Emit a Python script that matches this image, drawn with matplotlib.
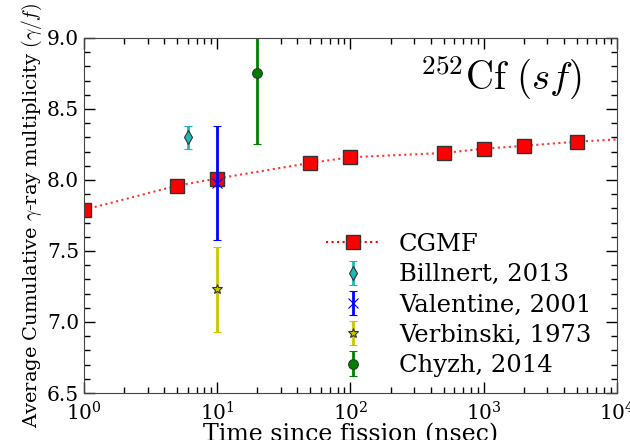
import matplotlib
matplotlib.use('Agg')
import matplotlib.pyplot as plt
import numpy as np

plt.rcParams['font.family'] = 'DejaVu Serif'
plt.rcParams['mathtext.fontset'] = 'cm'

# CGMF calculation
cgmfTime = [1, 5, 10, 50, 100, 500, 1000, 2000, 5000]
cgmfMult = [7.79, 7.96, 8.01, 8.12, 8.16, 8.19, 8.22, 8.24, 8.27]
# dotted curve runs past the last marker
curveTime = [1, 5, 10, 50, 100, 500, 1000, 2000, 5000, 10000]
curveMult = [7.79, 7.96, 8.01, 8.12, 8.16, 8.19, 8.22, 8.24, 8.27, 8.285]

# experiments: (time, multiplicity, error)
billnert = (6, 8.30, 0.08)
valentine = (10, 7.98, 0.40)
verbinski = (10, 7.23, 0.30)
chyzh = (20, 8.75, 0.50)

fig = plt.figure(figsize=(6.3, 4.4), dpi=100)
ax = fig.add_axes([0.1333, 0.1068, 0.846, 0.807])

ax.plot(curveTime, curveMult, ':', color='red', lw=1.5, alpha=0.8)
ax.plot(cgmfTime, cgmfMult, 's', color='red', mec='#333333', mew=1.0, ms=10.5)
cgmfHandle, = ax.plot([], [], 's:', color='red', mec='#333333', mew=1.0, ms=10.5, lw=1.5)

def expt(d, fmt, color, label, ms):
    return ax.errorbar(d[0], d[1], yerr=d[2], fmt=fmt, color=color, ecolor=color,
                       mec='#333333' if fmt != 'x' else color, mew=0.8, ms=ms,
                       elinewidth=2, capsize=3, capthick=1.5, label=label)

h1 = expt(billnert, 'd', '#20b8b8', 'Billnert, 2013', 7)
h2 = expt(valentine, 'x', 'blue', 'Valentine, 2001', 7)
h3 = expt(verbinski, '*', '#c8c800', 'Verbinski, 1973', 7)
h4 = expt(chyzh, 'o', 'green', 'Chyzh, 2014', 7)

ax.set_xscale('log')
ax.set_xlim(1, 1e4)
ax.set_ylim(6.5, 9.0)
ax.set_yticks([6.5, 7.0, 7.5, 8.0, 8.5, 9.0])
ax.set_yticks(np.arange(6.5, 9.0, 0.1), minor=True)
ax.tick_params(which='both', direction='in', top=True, right=True, labelsize=14.5)
ax.tick_params(which='major', length=8, width=1)
ax.tick_params(which='minor', length=4, width=1)
ax.tick_params(axis='x', pad=6)
for s in ax.spines.values():
    s.set_color('#444444')

ax.set_xlabel('Time since fission (nsec)', fontsize=17, labelpad=-1)
ax.set_ylabel(r'Average Cumulative $\gamma$-ray multiplicity $(\gamma/f)$', fontsize=14, labelpad=2)

ax.text(0.935, 0.89, r'$^{252}\mathrm{Cf}\ (sf)$', transform=ax.transAxes,
        fontsize=28, ha='right', va='center')

leg = ax.legend([cgmfHandle, h1, h2, h3, h4],
                ['CGMF', 'Billnert, 2013', 'Valentine, 2001', 'Verbinski, 1973', 'Chyzh, 2014'],
                loc='lower right', frameon=False, fontsize=17.5, numpoints=1,
                handlelength=2.2, handletextpad=0.8, labelspacing=0.3,
                borderaxespad=0.3, bbox_to_anchor=(0.984, -0.003))

fig.savefig('out.png', dpi=100)
